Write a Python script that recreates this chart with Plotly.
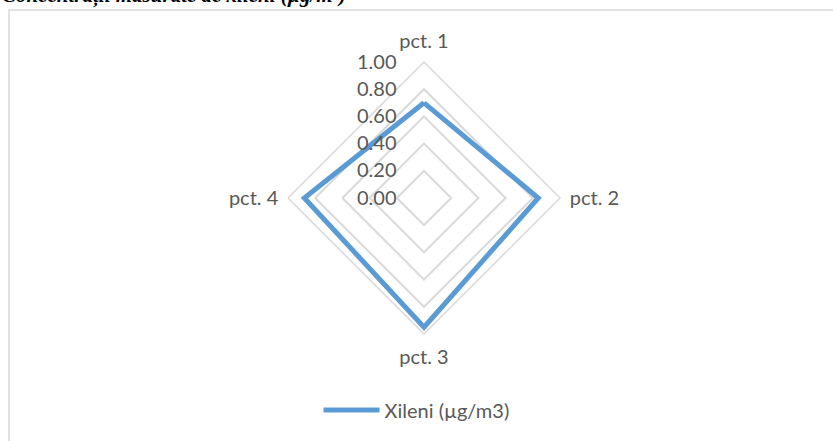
import plotly.graph_objects as go

categories = ["pct. 1", "pct. 2", "pct. 3", "pct. 4"]
values = [0.70, 0.84, 0.95, 0.88]
series_name = "Xileni (µg/m3)"
radial_ticks = [0, 0.2, 0.4, 0.6, 0.8, 1.0]
radial_labels = ["0.00", "0.20", "0.40", "0.60", "0.80", "1.00"]
title_text = "Concentrații măsurate de xileni (µg/m³)"

W, H = 833, 441
cx, cy, R = 424, 198, 136

fig = go.Figure()
fig.add_trace(go.Scatterpolar(
    r=values + values[:1],
    theta=categories + categories[:1],
    mode="lines",
    name=series_name,
    line=dict(color="#5B9BD5", width=5),
))

txt = dict(family="Lato, Open Sans, sans-serif", size=20, color="#595959")

fig.update_layout(
    width=W, height=H,
    margin=dict(l=0, r=0, t=0, b=0),
    paper_bgcolor="white",
    plot_bgcolor="white",
    showlegend=True,
    legend=dict(orientation="h", x=0.5, xanchor="center", y=1 - 410 / H, yanchor="middle",
                itemwidth=56,
                font=dict(family="Lato, Open Sans, sans-serif", size=20, color="#595959")),
    polar=dict(
        domain=dict(x=[(cx - R) / W, (cx + R) / W], y=[1 - (cy + R) / H, 1 - (cy - R) / H]),
        bgcolor="white",
        gridshape="linear",
        radialaxis=dict(
            range=[0, 1], tickvals=radial_ticks, ticktext=radial_labels,
            angle=90, side="counterclockwise", showline=False,
            gridcolor="#D9D9D9", gridwidth=1.5,
            ticks="outside", ticklen=20, tickcolor="rgba(0,0,0,0)", tickfont=txt,
            tickangle=90,
        ),
        angularaxis=dict(
            direction="clockwise", rotation=90, showgrid=False,
            showline=True, linecolor="#D9D9D9", linewidth=1.5,
            ticks="outside", ticklen=5, tickcolor="rgba(0,0,0,0)", tickfont=txt,
        ),
    ),
    annotations=[dict(
        text="<b><i>" + title_text + "</i></b>",
        xref="paper", yref="paper", x=0, y=1.011, xanchor="left", yanchor="middle",
        showarrow=False,
        font=dict(family="Liberation Serif, Times New Roman, serif", size=21, color="black"),
    )],
    shapes=[dict(
        type="rect", xref="paper", yref="paper",
        x0=9 / W, x1=1.02, y0=-0.02, y1=1 - 10 / H,
        line=dict(color="#D9D9D9", width=1.5), layer="below",
    )],
)

fig.write_html("out.html", config={"displayModeBar": False},
               post_script="document.body.style.margin='0';")
